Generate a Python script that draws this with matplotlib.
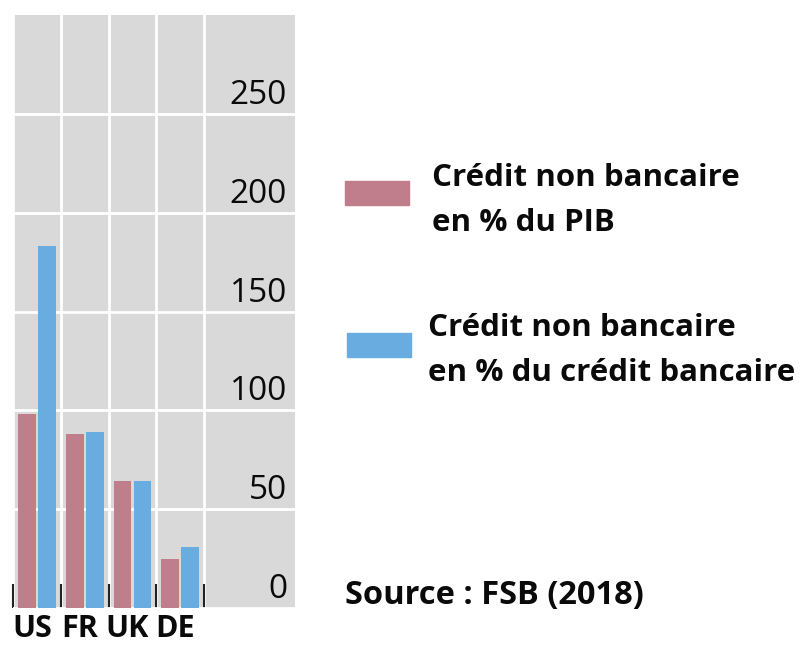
import numpy as np
import matplotlib.pyplot as plt
import matplotlib.transforms as mtransforms
from matplotlib.patches import Rectangle

# données
pays = ["US", "FR", "UK", "DE"]
pct_pib = [98, 88, 64, 25]
pct_credit_bancaire = [183, 89, 64, 31]
y_ticks = [0, 50, 100, 150, 200, 250]

rose = "#C07D8C"
bleu = "#69ADE0"
fond = "#D9D9D9"
police = "Open Sans"
noir = "#0A0A0A"

fig = plt.figure(figsize=(7.99, 6.51), dpi=100)
W, H = 799, 651
ax = fig.add_axes([13 / W, (H - 608) / H, 282 / W, (608 - 15) / H])
ax.set_facecolor(fond)

x = np.arange(len(pays))
larg = 0.37
ax.bar(x - 0.21, pct_pib, width=larg, color=rose, zorder=3)
ax.bar(x + 0.21, pct_credit_bancaire, width=larg, color=bleu, zorder=3)

ax.set_xlim(-0.5, 5.4)
ax.set_ylim(0, 300)

# grille blanche
ax.set_yticks(y_ticks)
ax.set_xticks(np.arange(len(pays) + 1) - 0.5)
ax.grid(True, color="white", linewidth=2, zorder=1)
ax.set_axisbelow(True)
for s in ax.spines.values():
    s.set_visible(False)

# petites marques noires entre les pays
ax.tick_params(axis="x", direction="in", length=17, width=1.5, color="#222222",
               labelbottom=False)
ax.tick_params(axis="y", length=0, labelleft=False)

# libellés des pays
ax.set_xticks(x, minor=True)
ax.set_xticklabels(pays, minor=True, fontsize=22, fontweight="bold", family=police)
ax.tick_params(axis="x", which="minor", length=0, pad=4, labelcolor=noir)
decal = mtransforms.ScaledTranslation(-5 / 100, 0, fig.dpi_scale_trans)
for lab in ax.get_xticklabels(minor=True):
    lab.set_transform(lab.get_transform() + decal)

# valeurs de l'axe y à l'intérieur, au-dessus des lignes
off = mtransforms.offset_copy(ax.get_yaxis_transform(), fig=fig, x=-8, y=10, units="dots")
for v in y_ticks:
    ax.text(1.0, v, str(v), transform=off, ha="right", va="baseline",
            fontsize=24, family=police, color=noir)

# légende
fig.patches.append(Rectangle((345 / W, 1 - 205 / H), 64 / W, 24 / H,
                             transform=fig.transFigure, color=rose))
fig.patches.append(Rectangle((347 / W, 1 - 357 / H), 64 / W, 24 / H,
                             transform=fig.transFigure, color=bleu))
lignes = [(432, 186, "Crédit non bancaire"), (432, 231, "en % du PIB"),
          (428, 336, "Crédit non bancaire"), (428, 381, "en % du crédit bancaire")]
for xp, yp, t in lignes:
    fig.text(xp / W, 1 - yp / H, t, fontsize=22.5, fontweight="bold", family=police,
             va="baseline", color=noir)

fig.text(345 / W, 1 - 604 / H, "Source : FSB (2018)", fontsize=23.5,
         fontweight="bold", family=police, va="baseline", color=noir)

fig.savefig("out.png", dpi=100)
